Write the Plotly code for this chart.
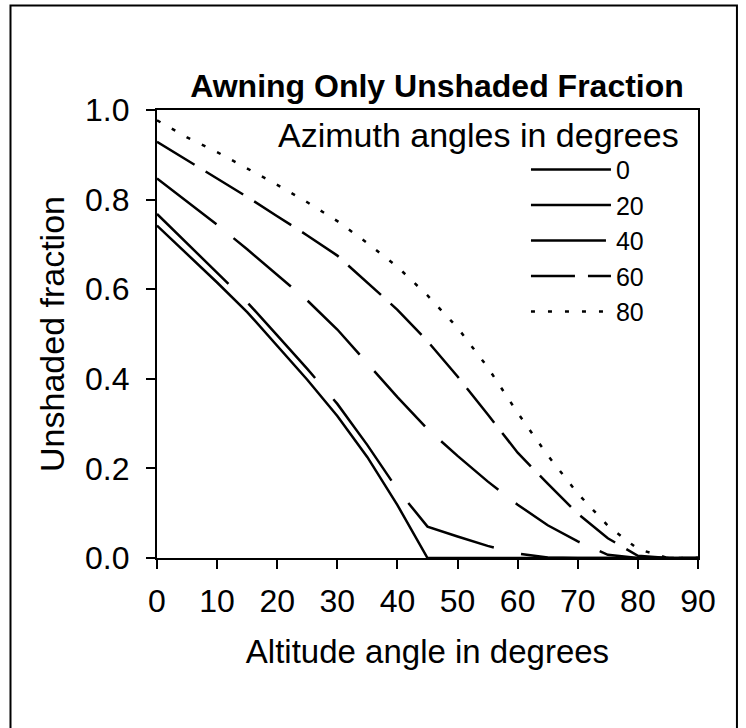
import plotly.graph_objects as go

# Altitude angle (degrees)
altitude = [0, 5, 10, 15, 20, 25, 30, 35, 40, 45, 50, 55, 60, 65, 70, 75, 80, 85, 90]

# Unshaded fraction for each azimuth angle (degrees)
az_0 = [0.742, 0.679, 0.615, 0.549, 0.474, 0.398, 0.317, 0.225, 0.118, 0.0,
        0.0, 0.0, 0.0, 0.0, 0.0, 0.0, 0.0, 0.0, 0.0]
az_20 = [0.768, 0.702, 0.637, 0.571, 0.497, 0.422, 0.344, 0.252, 0.153, 0.070,
         0.048, 0.027, 0.010, 0.001, 0.0, 0.0, 0.0, 0.0, 0.0]
az_40 = [0.847, 0.796, 0.744, 0.689, 0.633, 0.575, 0.510, 0.435, 0.359, 0.288,
         0.228, 0.171, 0.119, 0.073, 0.037, 0.007, 0.0, 0.0, 0.0]
az_60 = [0.929, 0.888, 0.847, 0.806, 0.763, 0.720, 0.675, 0.614, 0.554, 0.484,
         0.405, 0.321, 0.235, 0.166, 0.099, 0.044, 0.005, 0.0, 0.0]
az_80 = [0.977, 0.939, 0.906, 0.870, 0.833, 0.794, 0.752, 0.703, 0.650, 0.586,
         0.514, 0.426, 0.324, 0.229, 0.144, 0.072, 0.020, 0.0, 0.0]

series_names = ["0", "20", "40", "60", "80"]
series_values = [az_0, az_20, az_40, az_60, az_80]
series_dash = ["solid", "100px,28px", "75px,22px", "44px,13px", "4px,13px"]

x_ticks = [0, 10, 20, 30, 40, 50, 60, 70, 80, 90]
y_ticks = [0.0, 0.2, 0.4, 0.6, 0.8, 1.0]
y_tick_text = ["0.0", "0.2", "0.4", "0.6", "0.8", "1.0"]

FONT = "Liberation Sans, Arial, Helvetica, sans-serif"

fig = go.Figure()
for name, vals, dash in zip(series_names, series_values, series_dash):
    fig.add_trace(go.Scatter(
        x=altitude, y=vals, name=name, mode="lines",
        line=dict(color="black", width=2.5, dash=dash),
        hoverinfo="skip",
    ))

fig.update_layout(
    width=746, height=728,
    margin=dict(l=157, r=48, t=110, b=170, autoexpand=False),
    paper_bgcolor="white", plot_bgcolor="white",
    font=dict(family=FONT, color="black", size=32),
    title=dict(text="<b>Awning Only Unshaded Fraction</b>",
               x=(437 - 157) / 541, xref="paper", xanchor="center",
               y=1 - 86 / 728, yref="container", yanchor="middle",
               font=dict(family=FONT, size=32, color="black")),
    showlegend=True,
    legend=dict(x=0.682, xanchor="left", y=0.918, yanchor="top",
                bgcolor="rgba(0,0,0,0)", borderwidth=0,
                font=dict(family=FONT, size=25, color="black"),
                tracegroupgap=0, itemwidth=80),
    annotations=[dict(text="Azimuth angles in degrees", xref="paper", yref="paper",
                      x=0.9686, y=0.945, xanchor="right", yanchor="middle",
                      showarrow=False, font=dict(family=FONT, size=34, color="black"))],
    shapes=[dict(type="rect", xref="paper", yref="paper",
                 x0=-0.2708, x1=1.072, y0=-0.45, y1=1.233,
                 line=dict(color="black", width=2), layer="below")],
)

fig.update_xaxes(
    range=[0, 90], tickvals=x_ticks, ticktext=[str(v) for v in x_ticks],
    showgrid=False, zeroline=False, showline=True, mirror=True,
    linecolor="black", linewidth=2.3, automargin=False,
    ticks="outside", ticklen=9, tickwidth=2, tickcolor="black",
    ticklabelstandoff=4,
    tickfont=dict(family=FONT, size=32, color="black"),
    title=dict(text="Altitude angle in degrees", standoff=22,
               font=dict(family=FONT, size=33, color="black")),
)
fig.update_yaxes(
    range=[0, 1], tickvals=y_ticks, ticktext=y_tick_text,
    showgrid=False, zeroline=False, showline=True, mirror=True,
    linecolor="black", linewidth=2.3, automargin=False,
    ticks="outside", ticklen=9, tickwidth=2, tickcolor="black",
    ticklabelstandoff=10,
    tickfont=dict(family=FONT, size=32, color="black"),
    title=dict(text="Unshaded fraction", standoff=10,
               font=dict(family=FONT, size=34, color="black")),
)

fig.write_html("out.html", config={"displayModeBar": False},
               post_script="document.body.style.margin='0';")
